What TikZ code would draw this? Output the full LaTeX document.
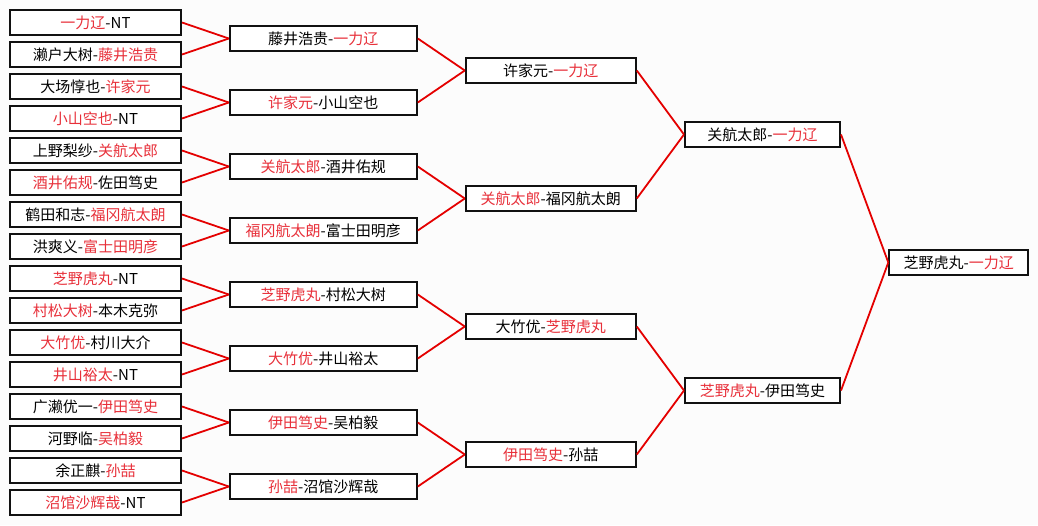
\documentclass[tikz,border=0pt]{standalone}
\usepackage{fontspec}
\usetikzlibrary{positioning}
\newfontfamily\cjk{Noto Sans CJK SC}
\definecolor{winRed}{HTML}{E8303A}
\definecolor{linkRed}{HTML}{E40000}
\definecolor{boxBlack}{HTML}{111111}
\definecolor{paperWhite}{HTML}{FCFCFC}
\tikzset{
    entry/.style={draw=boxBlack,fill=white,line width=2pt,inner sep=0pt,
        minimum height=25pt,align=center,font=\cjk\fontsize{15}{17}\selectfont},
    roundA/.style={entry,minimum width=171pt},
    roundB/.style={entry,minimum width=187pt},
    roundC/.style={entry,minimum width=170pt},
    roundD/.style={entry,minimum width=155pt},
    roundF/.style={entry,minimum width=139pt},
    link/.style={draw=linkRed,line width=1.8pt}
}
\newcommand{\win}[1]{\textcolor{winRed}{#1}}

\begin{document}
\begin{tikzpicture}[x=1pt,y=-1pt]
        \fill[paperWhite] (0,0) rectangle (1038,525);
        \useasboundingbox (0,0) rectangle (1038,525);
        % 第一轮：十六场
        \node[roundA] (a1) at (95.5,22.5) {\win{一力辽}-NT};
        \node[roundA] (a2) at (95.5,54.5) {濑户大树-\win{藤井浩贵}};
        \node[roundA] (a3) at (95.5,86.5) {大场惇也-\win{许家元}};
        \node[roundA] (a4) at (95.5,118.5) {\win{小山空也}-NT};
        \node[roundA] (a5) at (95.5,150.5) {上野梨纱-\win{关航太郎}};
        \node[roundA] (a6) at (95.5,182.5) {\win{酒井佑规}-佐田笃史};
        \node[roundA] (a7) at (95.5,214.5) {鹤田和志-\win{福冈航太朗}};
        \node[roundA] (a8) at (95.5,246.5) {洪爽义-\win{富士田明彦}};
        \node[roundA] (a9) at (95.5,278.5) {\win{芝野虎丸}-NT};
        \node[roundA] (a10) at (95.5,310.5) {\win{村松大树}-本木克弥};
        \node[roundA] (a11) at (95.5,342.5) {\win{大竹优}-村川大介};
        \node[roundA] (a12) at (95.5,374.5) {\win{井山裕太}-NT};
        \node[roundA] (a13) at (95.5,406.5) {广濑优一-\win{伊田笃史}};
        \node[roundA] (a14) at (95.5,438.5) {河野临-\win{吴柏毅}};
        \node[roundA] (a15) at (95.5,470.5) {余正麒-\win{孙喆}};
        \node[roundA] (a16) at (95.5,502.5) {\win{沼馆沙辉哉}-NT};

        % 第二轮
        \node[roundB] (b1) at (323.3,38.5) {藤井浩贵-\win{一力辽}};
        \node[roundB] (b2) at (323.3,102.5) {\win{许家元}-小山空也};
        \node[roundB] (b3) at (323.3,166.5) {\win{关航太郎}-酒井佑规};
        \node[roundB] (b4) at (323.3,230.5) {\win{福冈航太朗}-富士田明彦};
        \node[roundB] (b5) at (323.3,294.5) {\win{芝野虎丸}-村松大树};
        \node[roundB] (b6) at (323.3,358.5) {\win{大竹优}-井山裕太};
        \node[roundB] (b7) at (323.3,422.5) {\win{伊田笃史}-吴柏毅};
        \node[roundB] (b8) at (323.3,486.5) {\win{孙喆}-沼馆沙辉哉};

        % 八强
        \node[roundC] (c1) at (550.8,70.5) {许家元-\win{一力辽}};
        \node[roundC] (c2) at (550.8,198.5) {\win{关航太郎}-福冈航太朗};
        \node[roundC] (c3) at (550.8,326.5) {大竹优-\win{芝野虎丸}};
        \node[roundC] (c4) at (550.8,454.5) {\win{伊田笃史}-孙喆};

        % 半决赛与决赛
        \node[roundD] (d1) at (762.5,134.5) {关航太郎-\win{一力辽}};
        \node[roundD] (d2) at (762.5,390.5) {\win{芝野虎丸}-伊田笃史};
        \node[roundF] (fin) at (958.8,262.5) {芝野虎丸-\win{一力辽}};

        % 红线连接
        \draw[link] (a1.east) -- (b1.west);
        \draw[link] (a2.east) -- (b1.west);
        \draw[link] (a3.east) -- (b2.west);
        \draw[link] (a4.east) -- (b2.west);
        \draw[link] (a5.east) -- (b3.west);
        \draw[link] (a6.east) -- (b3.west);
        \draw[link] (a7.east) -- (b4.west);
        \draw[link] (a8.east) -- (b4.west);
        \draw[link] (a9.east) -- (b5.west);
        \draw[link] (a10.east) -- (b5.west);
        \draw[link] (a11.east) -- (b6.west);
        \draw[link] (a12.east) -- (b6.west);
        \draw[link] (a13.east) -- (b7.west);
        \draw[link] (a14.east) -- (b7.west);
        \draw[link] (a15.east) -- (b8.west);
        \draw[link] (a16.east) -- (b8.west);

        \draw[link] (b1.east) -- (c1.west);
        \draw[link] (b2.east) -- (c1.west);
        \draw[link] (b3.east) -- (c2.west);
        \draw[link] (b4.east) -- (c2.west);
        \draw[link] (b5.east) -- (c3.west);
        \draw[link] (b6.east) -- (c3.west);
        \draw[link] (b7.east) -- (c4.west);
        \draw[link] (b8.east) -- (c4.west);

        \draw[link] (c1.east) -- (d1.west);
        \draw[link] (c2.east) -- (d1.west);
        \draw[link] (c3.east) -- (d2.west);
        \draw[link] (c4.east) -- (d2.west);

        \draw[link] (d1.east) -- (fin.west);
        \draw[link] (d2.east) -- (fin.west);

    \end{tikzpicture}
\end{document}
